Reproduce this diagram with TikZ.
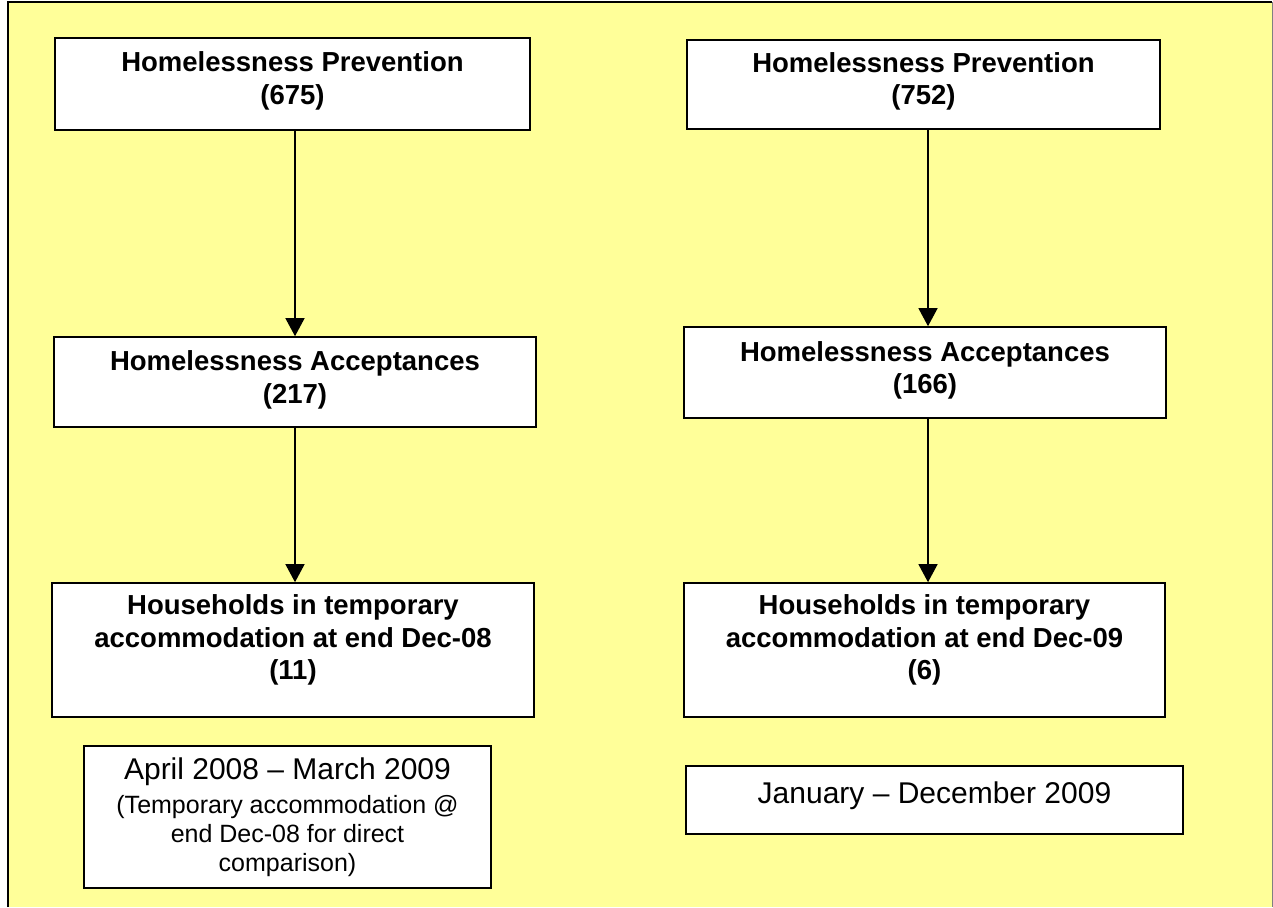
\documentclass[tikz,border=0pt]{standalone}
\usepackage{fontspec}
\setmainfont{Liberation Sans}
\usetikzlibrary{arrows.meta}
\definecolor{bgyellow}{HTML}{FFFF99}
\newcommand{\xdepth}[1]{\rule[-#1]{0pt}{0pt}}
\newcommand{\smalltxt}{\fontsize{25}{27.5}\selectfont}
\tikzset{
  stagebox/.style={draw=black, fill=white, line width=1.6pt, align=center, inner sep=0pt,
    font=\fontsize{27.5}{32.5}\selectfont\bfseries},
  datebox/.style={draw=black, fill=white, line width=1.6pt, align=center, inner sep=0pt,
    font=\fontsize{30}{34}\selectfont},
  flow/.style={draw=black, line width=1.3pt, -{Triangle[width=19pt,length=18pt]}},
}
\begin{document}
\begin{tikzpicture}[x=1pt,y=-1pt]
\useasboundingbox (0,0) rectangle (1273,907);
\fill[bgyellow] (8,2) rectangle (1273,907);
\draw[black, line width=1.4pt] (8,907) -- (8,2) -- (1272,2);
\draw[gray, line width=1pt] (1272,2) -- (1272,907);

\node[stagebox, minimum width=475pt, minimum height=92pt] (p1) at (292.5,84)
  {Homelessness Prevention\\(675)\xdepth{12pt}};
\node[stagebox, minimum width=473pt, minimum height=89pt] (p2) at (923.5,84.5)
  {Homelessness Prevention\\(752)\xdepth{12pt}};
\node[stagebox, minimum width=482pt, minimum height=90pt] (a1) at (295,382)
  {Homelessness Acceptances\\(217)\xdepth{10pt}};
\node[stagebox, minimum width=482pt, minimum height=91pt] (a2) at (925,372.5)
  {Homelessness Acceptances\\(166)\xdepth{10pt}};
\node[stagebox, minimum width=482pt, minimum height=134pt] (h1) at (293,650)
  {Households in temporary\\accommodation at end Dec-08\\(11)\xdepth{25pt}};
\node[stagebox, minimum width=481pt, minimum height=134pt] (h2) at (924.5,650)
  {Households in temporary\\accommodation at end Dec-09\\(6)\xdepth{25pt}};
\node[datebox, minimum width=407pt, minimum height=142pt] (d1) at (287.5,817)
  {April 2008 – March 2009\\[0pt]
   \smalltxt (Temporary accommodation @\\[-4.5pt]
   \smalltxt end Dec-08 for direct\\[-5pt]
   \smalltxt comparison)};
\node[datebox, minimum width=497pt, minimum height=68pt] (d2) at (934.5,800)
  {January – December 2009\xdepth{14pt}};

\coordinate (xl) at (295,0);
\coordinate (xr) at (928,0);
\draw[flow] (p1.south -| xl) -- (a1.north -| xl);
\draw[flow] (a1.south -| xl) -- (h1.north -| xl);
\draw[flow] (p2.south -| xr) -- (a2.north -| xr);
\draw[flow] (a2.south -| xr) -- (h2.north -| xr);
\end{tikzpicture}
\end{document}
